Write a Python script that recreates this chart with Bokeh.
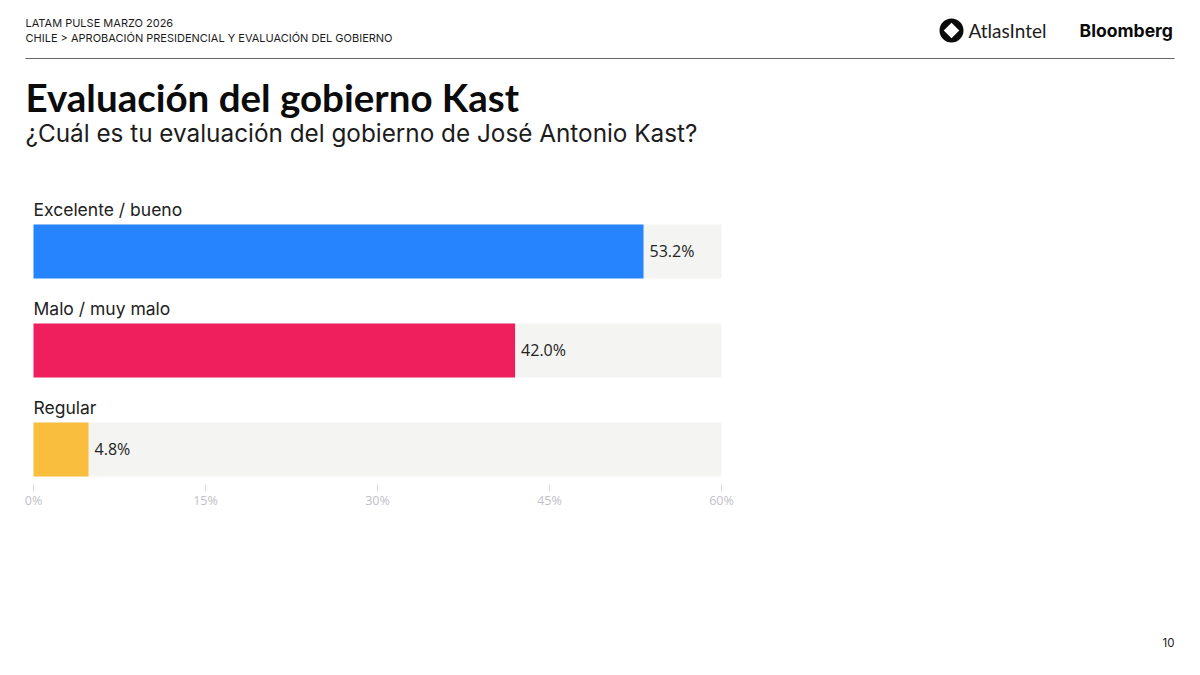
import math

from bokeh.core.properties import value as fixed
from bokeh.embed import file_html
from bokeh.layouts import column
from bokeh.models import ColumnDataSource, FixedTicker, Range1d
from bokeh.plotting import figure
from bokeh.resources import INLINE

categories = ["Excelente / bueno", "Malo / muy malo", "Regular"]
values = [53.2, 42.0, 4.8]
bar_colors = ["#2684FF", "#EF1F5E", "#F9BE3E"]
axis_max = 60
tick_values = [0, 15, 30, 45, 60]
tick_labels = ["0%", "15%", "30%", "45%", "60%"]

header_lines = ["LATAM PULSE MARZO 2026", "CHILE > APROBACIÓN PRESIDENCIAL Y EVALUACIÓN DEL GOBIERNO"]
chart_title = "Evaluación del gobierno Kast"
chart_subtitle = "¿Cuál es tu evaluación del gobierno de José Antonio Kast?"
page_number = "10"

HEAD_FONT = "Inter"
BODY_FONT = "Open Sans"

WIDTH, HEIGHT = 1200, 675
PLOT_LEFT, PLOT_RIGHT = 33, 721
ROW_TOP, ROW_PITCH, BAR_H = 251, 99, 54
AXIS_Y = 484
CHART_H = 520

px_per_pct = (PLOT_RIGHT - PLOT_LEFT) / axis_max

# frame runs from the top of the page down to the axis: main ranges are the chart's,
# "px" ranges are for the page furniture
p = figure(width=WIDTH, height=CHART_H,
           x_range=Range1d(-PLOT_LEFT / px_per_pct, (WIDTH - PLOT_LEFT) / px_per_pct),
           y_range=Range1d((AXIS_Y - ROW_TOP) / ROW_PITCH, -ROW_TOP / ROW_PITCH),
           output_backend="svg", toolbar_location=None, tools="",
           min_border_left=0, min_border_right=0, min_border_top=0, min_border_bottom=CHART_H - AXIS_Y,
           outline_line_color=None, y_axis_location=None)
p.grid.visible = False
p.extra_x_ranges["px"] = Range1d(0, WIDTH)
p.extra_y_ranges["px"] = Range1d(AXIS_Y, 0)


def put(x, y, txt, size, color="#1c1c1c", style="normal", font=HEAD_FONT, align="left"):
    p.text([x], [y], text=[txt], text_font=fixed(font), text_font_size=size, text_color=color,
           text_font_style=style, text_baseline="middle", text_align=align,
           x_range_name="px", y_range_name="px")


# header
put(25, 22, header_lines[0], "11px")
put(25, 37, header_lines[1], "11px")
p.line([25, 1174], [58, 58], line_color="#666666", line_width=1, x_range_name="px", y_range_name="px")
put(25, 96.5, chart_title, "38.5px", color="#0b0b0b", style="bold", font="Lato")
put(25, 132.5, chart_subtitle, "24.3px")

# logos
p.scatter([951], [30], size=24, marker="circle", fill_color="#0b0b0b", line_color=None,
          x_range_name="px", y_range_name="px")
p.scatter([951], [30], size=11, marker="square", angle=math.pi / 4, fill_color="white", line_color=None,
          x_range_name="px", y_range_name="px")
put(968, 30, "AtlasIntel", "19px", font="Lato")
put(1079, 30, "Bloomberg", "17.6px", color="#0b0b0b", style="bold")

# bars
rows = list(range(len(categories)))
source = ColumnDataSource(data=dict(
    row=rows,
    value=values,
    color=bar_colors,
    track=[axis_max] * len(rows),
    category=categories,
    label=[f"{v:.1f}%" for v in values],
))

bar_height = BAR_H / ROW_PITCH
p.hbar(y="row", left=0, right="track", height=bar_height, source=source,
       fill_color="#F4F4F3", line_color=None)
p.hbar(y="row", left=0, right="value", height=bar_height, source=source,
       fill_color="color", line_color=None)

p.text(x=0, y="row", text="category", source=source, y_offset=-32,
       text_font=fixed(HEAD_FONT), text_font_size="17.5px", text_color="#222222",
       text_baseline="bottom")
p.text(x="value", y="row", text="label", source=source, x_offset=6, y_offset=-1,
       text_font=fixed(BODY_FONT), text_font_size="16px", text_color="#222222",
       text_baseline="middle")

axis = p.xaxis[0]
axis.ticker = FixedTicker(ticks=tick_values)
axis.major_label_overrides = dict(zip(tick_values, tick_labels))
axis.axis_line_color = None
axis.major_tick_in = 0
axis.major_tick_out = 7
axis.minor_tick_line_color = None
axis.major_tick_line_color = "#D5D5DA"
axis.major_label_text_color = "#C0C0C8"
axis.major_label_text_font = BODY_FONT
axis.major_label_text_font_size = "12.5px"
axis.major_label_standoff = 0

# footer strip for the page number, labels get clipped below the chart's frame
footer = figure(width=WIDTH, height=HEIGHT - CHART_H, x_range=Range1d(0, WIDTH), y_range=Range1d(HEIGHT, CHART_H),
                output_backend="svg", toolbar_location=None, tools="", min_border=0,
                outline_line_color=None, x_axis_location=None, y_axis_location=None)
footer.grid.visible = False
footer.text([1174], [642], text=[page_number], text_font=fixed(HEAD_FONT), text_font_size="11.5px",
            text_color="#222222", text_align="right", text_baseline="middle")

page = column(p, footer, spacing=0)
open("out.html", "w").write(file_html(page, INLINE))
